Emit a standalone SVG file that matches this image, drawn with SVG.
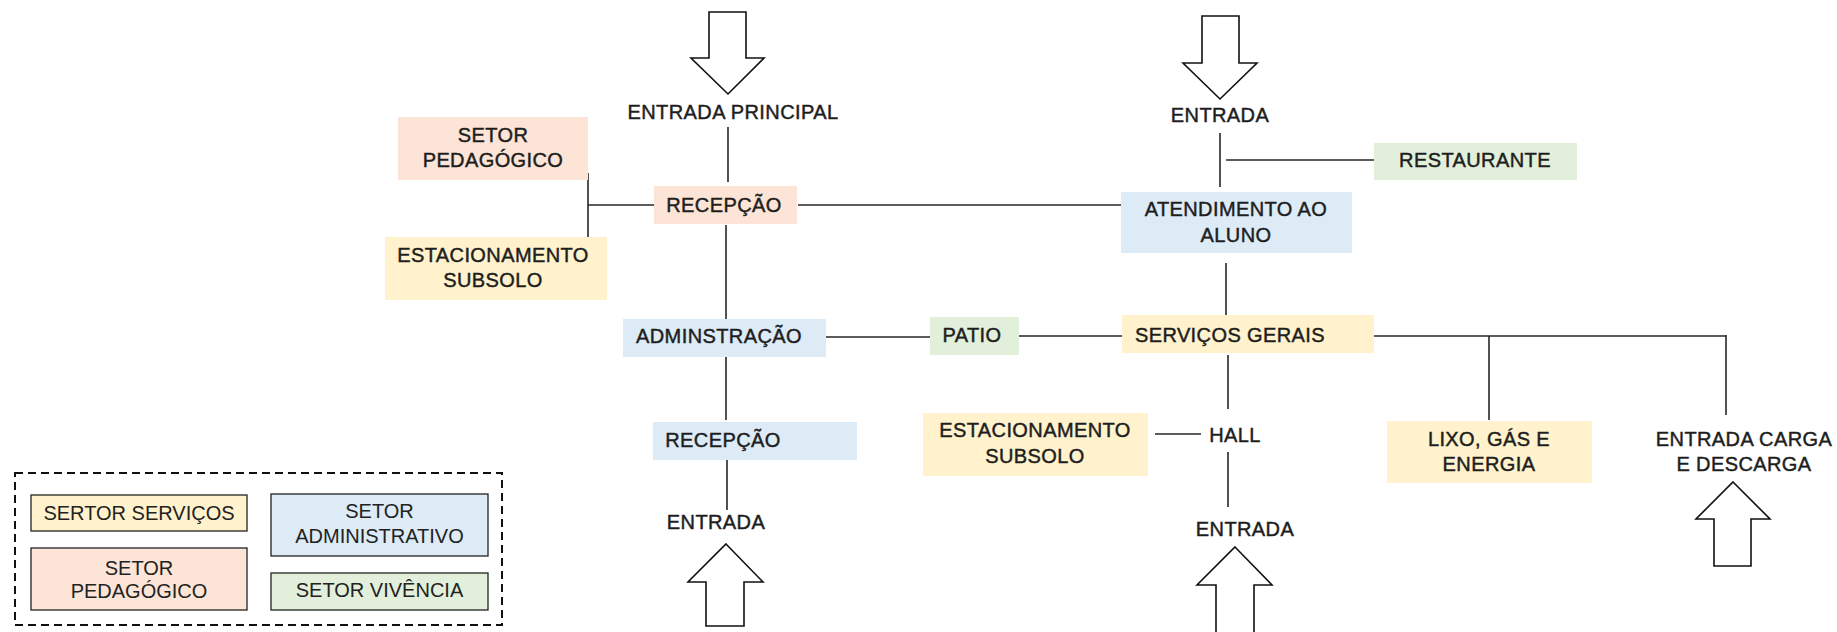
<svg xmlns="http://www.w3.org/2000/svg" width="1837" height="632" viewBox="0 0 1837 632">
<style>
text{font-family:"Liberation Sans",Arial,sans-serif;font-size:20px;fill:#1e1e1e;text-anchor:middle}
.main text{stroke:#1e1e1e;stroke-width:0.45;letter-spacing:0.4px}
.ped{fill:#fce4d6}
.srv{fill:#fff2cc}
.adm{fill:#ddebf7}
.viv{fill:#e2efda}
.conn line{stroke:#262626;stroke-width:1.6;fill:none}
.arrow{fill:#fff;stroke:#111;stroke-width:1.6;stroke-linejoin:miter}
.leg rect{stroke:#222;stroke-width:1.3}
.legt{fill:#222}
</style>
<rect width="1837" height="632" fill="#fff"/>

<g class="conn" id="connectors">
<line x1="728" y1="127" x2="728" y2="182"/>
<line x1="588" y1="173" x2="588" y2="237"/>
<line x1="588" y1="205" x2="654" y2="205"/>
<line x1="798" y1="205" x2="1121" y2="205"/>
<line x1="1220" y1="133" x2="1220" y2="187"/>
<line x1="1226" y1="160" x2="1374" y2="160"/>
<line x1="1226" y1="263" x2="1226" y2="315"/>
<line x1="726" y1="225" x2="726" y2="319"/>
<line x1="826" y1="337" x2="930" y2="337"/>
<line x1="1012" y1="336" x2="1122" y2="336"/>
<line x1="1333" y1="336" x2="1726" y2="336"/>
<line x1="1489" y1="336" x2="1489" y2="420"/>
<line x1="1726" y1="335" x2="1726" y2="415"/>
<line x1="1228" y1="355" x2="1228" y2="409"/>
<line x1="1155" y1="434" x2="1201" y2="434"/>
<line x1="1228" y1="452" x2="1228" y2="507"/>
<line x1="726" y1="357" x2="726" y2="420"/>
<line x1="727" y1="456" x2="727" y2="510"/>
</g>

<g id="arrow-entrada-principal">
<polygon class="arrow" points="709,12 746,12 746,58 764,58 728,94 691,58 709,58"/>
</g>
<g id="arrow-entrada-top">
<polygon class="arrow" points="1202,16 1239,16 1239,63 1257,63 1220,99 1183,63 1202,63"/>
</g>
<g id="arrow-entrada-bottom-left">
<polygon class="arrow" points="726,544 763,582 744,582 744,626 706,626 706,582 688,582"/>
</g>
<g id="arrow-entrada-bottom-mid">
<polygon class="arrow" points="1235,547 1272,585 1254,585 1254,640 1216,640 1216,585 1197,585"/>
</g>
<g id="arrow-carga">
<polygon class="arrow" points="1733,482 1770,519 1751,519 1751,566 1714,566 1714,519 1696,519"/>
</g>

<g class="main">
<g id="entrada-principal"><text x="733" y="119">ENTRADA PRINCIPAL</text></g>
<g id="setor-pedagogico">
<rect class="ped" x="398" y="117" width="190" height="63"/>
<text x="493" y="142">SETOR</text>
<text x="493" y="167">PEDAGÓGICO</text>
</g>
<g id="estacionamento-1">
<rect class="srv" x="385" y="237" width="222" height="63"/>
<text x="493" y="262">ESTACIONAMENTO</text>
<text x="493" y="287">SUBSOLO</text>
</g>
<g id="recepcao-1">
<rect class="ped" x="654" y="186" width="143" height="38"/>
<text x="724" y="212">RECEPÇÃO</text>
</g>
<g id="entrada-top"><text x="1220" y="122">ENTRADA</text></g>
<g id="restaurante">
<rect class="viv" x="1374" y="143" width="203" height="37"/>
<text x="1475" y="167">RESTAURANTE</text>
</g>
<g id="atendimento">
<rect class="adm" x="1121" y="192" width="231" height="61"/>
<text x="1236" y="216">ATENDIMENTO AO</text>
<text x="1236" y="242">ALUNO</text>
</g>
<g id="adminstracao">
<rect class="adm" x="623" y="319" width="203" height="38"/>
<text x="719" y="343">ADMINSTRAÇÃO</text>
</g>
<g id="patio">
<rect class="viv" x="930" y="317" width="89" height="38"/>
<text x="972" y="342">PATIO</text>
</g>
<g id="servicos-gerais">
<rect class="srv" x="1122" y="315" width="252" height="38"/>
<text x="1230" y="342">SERVIÇOS GERAIS</text>
</g>
<g id="recepcao-2">
<rect class="adm" x="653" y="422" width="204" height="38"/>
<text x="723" y="447">RECEPÇÃO</text>
</g>
<g id="entrada-bottom-left"><text x="716" y="529">ENTRADA</text></g>
<g id="estacionamento-2">
<rect class="srv" x="923" y="413" width="225" height="63"/>
<text x="1035" y="437">ESTACIONAMENTO</text>
<text x="1035" y="463">SUBSOLO</text>
</g>
<g id="hall"><text x="1235" y="442">HALL</text></g>
<g id="entrada-bottom-mid"><text x="1245" y="536">ENTRADA</text></g>
<g id="lixo">
<rect class="srv" x="1387" y="421" width="205" height="62"/>
<text x="1489" y="446">LIXO, GÁS E</text>
<text x="1489" y="471">ENERGIA</text>
</g>
<g id="entrada-carga">
<text x="1744" y="446">ENTRADA CARGA</text>
<text x="1744" y="471">E DESCARGA</text>
</g>
</g>

<g id="legend" class="leg">
<rect x="15" y="473" width="487" height="152" fill="none" style="stroke:#111;stroke-width:2;stroke-dasharray:8 5"/>
<g id="legend-servicos">
<rect class="srv" x="31" y="495" width="216" height="36"/>
<text class="legt" x="139" y="520">SERTOR SERVIÇOS</text>
</g>
<g id="legend-pedagogico">
<rect class="ped" x="31" y="548" width="216" height="62"/>
<text class="legt" x="139" y="575">SETOR</text>
<text class="legt" x="139" y="598">PEDAGÓGICO</text>
</g>
<g id="legend-administrativo">
<rect class="adm" x="271" y="494" width="217" height="62"/>
<text class="legt" x="379.5" y="518">SETOR</text>
<text class="legt" x="379.5" y="543">ADMINISTRATIVO</text>
</g>
<g id="legend-vivencia">
<rect class="viv" x="271" y="573" width="217" height="37"/>
<text class="legt" x="379.5" y="597">SETOR VIVÊNCIA</text>
</g>
</g>
</svg>
